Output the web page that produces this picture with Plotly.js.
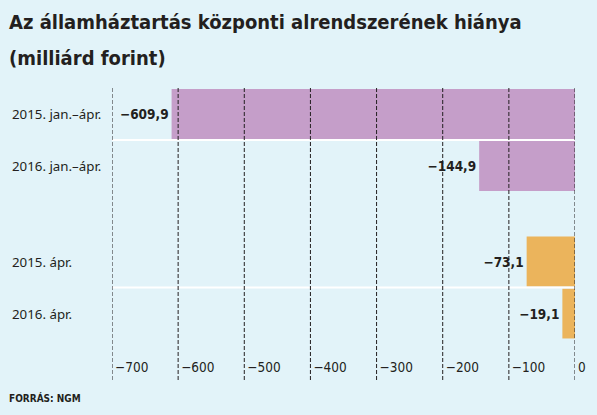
<!DOCTYPE html>
<html>
<head>
<meta charset="utf-8">
<script src="https://cdn.plot.ly/plotly-3.0.1.min.js"></script>
<style>html,body{margin:0;padding:0;background:#e2f3f9;}#chart{width:597px;height:415px;}</style>
</head>
<body>
<div id="chart"></div>
<script>
// Data
const categories = ["2015. jan.–ápr.", "2016. jan.–ápr.", "2015. ápr.", "2016. ápr."];
const values = [-609.9, -144.9, -73.1, -19.1];
const group = [0, 0, 1, 1];            // 0 = jan.–ápr. cumulated, 1 = April only
const xTicks = [-700, -600, -500, -400, -300, -200, -100, 0];
const titleLines = ["Az államháztartás központi alrendszerének hiánya", "(milliárd forint)"];
const source = "FORRÁS: NGM";

// layout helpers (not data)
const W = 597, H = 415;
const M = {l: 112, r: 22, t: 86, b: 58};
const PW = W - M.l - M.r, PH = H - M.t - M.b;
const px2x = px => (px - M.l) / PW;           // pixel -> paper x
const py2y = py => (H - M.b - py) / PH;        // pixel -> paper y
const GROUP_GAP = 0.837;
const ypos = categories.map((c, i) => i + group[i] * GROUP_GAP);
const colors = ["#c59ec9", "#ebb45c"];
const ink = "#231f20";
const narrow = "DejaVu Sans Condensed, DejaVu Sans, sans-serif";
const fmt = v => (v < 0 ? "\u2212" : "") + Math.abs(v).toFixed(1).replace(".", ",");

const traces = [0, 1].map(g => {
  const idx = values.map((v, i) => i).filter(i => group[i] === g);
  return {
    type: "bar",
    orientation: "h",
    x: idx.map(i => values[i]),
    y: idx.map(i => ypos[i]),
    text: idx.map(i => fmt(values[i])),
    texttemplate: "%{text}",
    width: 0.96,
    marker: {color: colors[g], line: {width: 0}},
    textposition: "outside",
    cliponaxis: false,
    textfont: {family: narrow, size: 13.5, color: ink, weight: "bold", stretch: "condensed"},
    hoverinfo: "skip"
  };
});

const shapes = [];
[0.5, 2 + GROUP_GAP + 0.5].forEach(yv => shapes.push({
  type: "line", xref: "x", yref: "y", x0: xTicks[0], x1: 0, y0: yv, y1: yv,
  line: {color: "#ffffff", width: 2}, layer: "above"
}));
xTicks.forEach(v => shapes.push({
  type: "line", xref: "x", yref: "paper", x0: v, x1: v, y0: py2y(380), y1: 1,
  line: {color: ink, width: 1, dash: "4px,2px"}, layer: "above"
}));

const annotations = categories.map((c, i) => ({
  text: c, xref: "paper", yref: "y", x: px2x(10), y: ypos[i], xanchor: "left", yanchor: "middle",
  showarrow: false,
  font: {family: "Noto Sans", size: 13.3, color: ink}
}));
titleLines.forEach((t, i) => annotations.push({
  text: "<b>" + t + "</b>", xref: "paper", yref: "paper",
  x: px2x(7), y: py2y(22 + i * 36), xanchor: "left", yanchor: "middle", showarrow: false,
  font: {family: narrow, size: 20, color: ink, stretch: "condensed"}
}));
annotations.push({
  text: "<b>" + source + "</b>", xref: "paper", yref: "paper",
  x: px2x(7), y: py2y(398), xanchor: "left", yanchor: "middle", showarrow: false,
  font: {family: narrow, size: 10, color: ink, stretch: "condensed"}
});

const layout = {
  width: W, height: H,
  paper_bgcolor: "#e2f3f9", plot_bgcolor: "#e2f3f9",
  margin: M,
  separators: ", ",
  showlegend: false,
  barmode: "overlay",
  xaxis: {
    range: [xTicks[0], 0],
    tickvals: xTicks,
    tickformat: "d",
    ticklabelposition: "outside right",
    ticklabelshift: 3,
    ticks: "",
    showgrid: false, zeroline: false, showline: false,
    tickfont: {family: narrow, size: 13.5, color: ink, stretch: "condensed"},
    fixedrange: true
  },
  yaxis: {
    range: [(H - M.b - 114) / 52, -28 / 52],
    showticklabels: false, showgrid: false, zeroline: false, showline: false, ticks: "",
    fixedrange: true
  },
  shapes: shapes,
  annotations: annotations
};

Plotly.newPlot("chart", traces, layout, {displayModeBar: false, staticPlot: true});
</script>
</body>
</html>
